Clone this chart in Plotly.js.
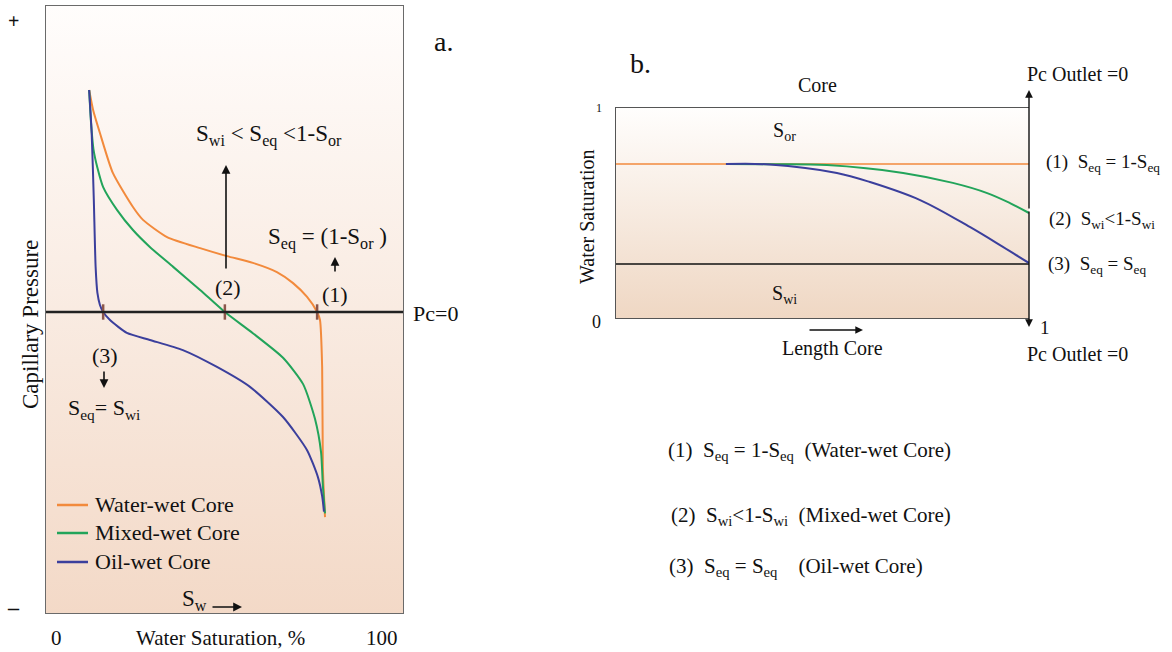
<!DOCTYPE html>
<html><head><meta charset="utf-8">
<script src="https://cdn.plot.ly/plotly-3.0.1.min.js"></script>
<style>html,body{margin:0;padding:0;background:#fff}#c{width:1172px;height:652px}</style>
</head><body><div id="c"></div>
<script>
// ---- Panel a: capillary pressure vs water saturation (%) ----
const waterWetSw = [12.3,13.4,15.3,18.9,24.5,27.3,34.0,43.2,50.7,57.9,64.6,69.1,73.0,75.8,76.6,77.2,77.4,78.0];
const waterWetPc = [0.723,0.658,0.583,0.453,0.342,0.300,0.244,0.208,0.182,0.160,0.130,0.094,0.049,0,-0.026,-0.179,-0.505,-0.668];
const mixedWetSw = [12.3,12.8,13.5,14.6,16.2,20.1,24.5,29.2,35.7,43.2,50.1,57.9,66.3,71.9,75.2,76.9,77.4,78.0];
const mixedWetPc = [0.723,0.620,0.530,0.470,0.407,0.332,0.267,0.212,0.147,0.072,0,-0.069,-0.149,-0.235,-0.348,-0.457,-0.566,-0.656];
const oilWetSw = [12.3,13.0,13.6,14.1,14.6,15.3,16.2,18.1,22.8,29.2,38.4,47.9,57.1,66.3,73.0,76.0,77.2,77.7];
const oilWetPc = [0.723,0.583,0.365,0.147,0.062,0.023,0,-0.026,-0.068,-0.091,-0.124,-0.179,-0.244,-0.342,-0.450,-0.537,-0.600,-0.650];
const crossingSw = [16.2,50.1,75.8];
const seriesNames = ["Water-wet Core","Mixed-wet Core","Oil-wet Core"];

// ---- Panel b: water saturation along core length ----
const coreLen = [0,1];
const sOrLevel = [0.731,0.731];
const sWiLevel = [0.259,0.259];
const mixedLen = [0.268,0.374,0.512,0.696,0.816,0.899,0.954,1.0];
const mixedSat = [0.731,0.730,0.726,0.689,0.642,0.594,0.547,0.5];
const oilLen = [0.268,0.374,0.536,0.616,0.737,0.857,0.937,1.0];
const oilSat = [0.731,0.729,0.689,0.646,0.561,0.434,0.340,0.264];

const W=1172,H=652;
const px=x=>x/W, py=y=>1-y/H;
const A_Y0=-0.9837, A_Y1=1;
const serif="'Liberation Serif', 'Times New Roman', serif";
const cOr="#f28a3c", cGr="#22a45a", cBl="#3b3f9c";
const seriesColors=[cOr,cGr,cBl];

const traces=[
 {x:[0,100,100,0,0],y:[A_Y0,A_Y0,A_Y1,A_Y1,A_Y0],xaxis:'x',yaxis:'y',fill:'toself',mode:'none',showlegend:false,hoverinfo:'skip',
  fillgradient:{type:'vertical',colorscale:[[0,'#f3d9c7'],[1,'#fffdfc']]}},
 {x:[0,1,1,0,0],y:[0,0,1,1,0],xaxis:'x2',yaxis:'y2',fill:'toself',mode:'none',showlegend:false,hoverinfo:'skip',
  fillgradient:{type:'vertical',colorscale:[[0,'#efd7c3'],[1,'#fffefd']]}},
 {x:waterWetSw,y:waterWetPc,name:seriesNames[0],mode:'lines',line:{color:cOr,width:2,shape:'spline',smoothing:0.6},xaxis:'x',yaxis:'y',showlegend:false},
 {x:mixedWetSw,y:mixedWetPc,name:seriesNames[1],mode:'lines',line:{color:cGr,width:2,shape:'spline',smoothing:0.6},xaxis:'x',yaxis:'y',showlegend:false},
 {x:oilWetSw,y:oilWetPc,name:seriesNames[2],mode:'lines',line:{color:cBl,width:2,shape:'spline',smoothing:0.6},xaxis:'x',yaxis:'y',showlegend:false},
 {x:crossingSw,y:crossingSw.map(()=>0),mode:'markers',marker:{symbol:'line-ns-open',size:11,line:{width:2.5,color:'#222'}},showlegend:false,xaxis:'x',yaxis:'y',hoverinfo:'skip'},
 {x:coreLen,y:sOrLevel,mode:'lines',line:{color:cOr,width:1.5},showlegend:false,xaxis:'x2',yaxis:'y2'},
 {x:coreLen,y:sWiLevel,mode:'lines',line:{color:'#111',width:1.5},showlegend:false,xaxis:'x2',yaxis:'y2'},
 {x:mixedLen,y:mixedSat,mode:'lines',line:{color:cGr,width:2,shape:'spline'},showlegend:false,xaxis:'x2',yaxis:'y2'},
 {x:oilLen,y:oilSat,mode:'lines',line:{color:cBl,width:2,shape:'spline'},showlegend:false,xaxis:'x2',yaxis:'y2'}
];

function T(text,x,y,size,opts){return Object.assign({text:text,x:px(x),y:py(y),xref:'paper',yref:'paper',showarrow:false,font:{family:serif,size:size,color:'#111'},xanchor:'center',yanchor:'middle'},opts||{});}
function Arr(hx,hy,tx,ty,w){return {text:'',x:px(hx),y:py(hy),xref:'paper',yref:'paper',showarrow:true,ax:tx-hx,ay:ty-hy,arrowhead:2,arrowsize:1.1,arrowwidth:w||1.6,arrowcolor:'#111'};}
const sp='\u00A0';
const annotations=[
 T('<b>+</b>',13,21,20),
 T('<b>–</b>',13,607,22),
 T('Capillary Pressure',30,325,23,{textangle:-90}),
 T('0',56,638,21),
 T('Water Saturation, %',220,638,21),
 T('100',382,638,21),
 T('a.',443,42,28),
 T('Pc=0',411,313,22,{xanchor:'left'}),
 T('S<sub>wi</sub> < S<sub>eq</sub> <1-S<sub>or</sub>',269,135,23),
 T('(2)',228,287,22),
 T('S<sub>eq</sub> = (1-S<sub>or</sub> )',266,238,23,{xanchor:'left'}),
 T('(1)',335,295,22),
 T('(3)',105,355,22),
 T('S<sub>eq</sub>= S<sub>wi</sub>',104,409,22),
 T('S<sub>w</sub>',180,600,23,{xanchor:'left'}),
 Arr(226,165,226,270),
 Arr(335,257,335,273),
 Arr(104,388,104,370),
 Arr(242,607,211,607),
 // panel b
 T('b.',640,63,28),
 T('Core',817,85,20),
 T('S<sub>or</sub>',784,131,20),
 T('S<sub>wi</sub>',784,295,20),
 T('Water Saturation',587,217,20,{textangle:-90}),
 T('1',599,108,12),
 T('0',596,322,18),
 T('Length Core',832,348,20),
 Arr(863,330,808,330,1.4),
 T('Pc Outlet =0',1077,74,20),
 T('Pc Outlet =0',1077,354,20),
 T('1',1045,327,19),
 Arr(1029,90,1029,210,1.4),
 Arr(1029,327,1029,210,1.4),
 T('(1)'+sp+sp+'S<sub>eq</sub> = 1-S<sub>eq</sub>',1044,163,19,{xanchor:'left'}),
 T('(2)'+sp+sp+'S<sub>wi</sub><1-S<sub>wi</sub>',1047,220,19,{xanchor:'left'}),
 T('(3)'+sp+sp+'S<sub>eq</sub> = S<sub>eq</sub>',1046,265,19,{xanchor:'left'}),
 T('(1)'+sp+sp+'S<sub>eq</sub> = 1-S<sub>eq</sub>'+sp+sp+'(Water-wet Core)',666,451,21,{xanchor:'left'}),
 T('(2)'+sp+sp+'S<sub>wi</sub><1-S<sub>wi</sub>'+sp+sp+'(Mixed-wet Core)',669,516,21,{xanchor:'left'}),
 T('(3)'+sp+sp+'S<sub>eq</sub> = S<sub>eq</sub>'+sp+sp+sp+sp+'(Oil-wet Core)',667,567,21,{xanchor:'left'})
];

const shapes=[
 {type:'line',xref:'x',yref:'y',x0:0,x1:100,y0:0,y1:0,line:{color:'#222',width:2.5}},
 {type:'rect',xref:'x',yref:'y',x0:0,x1:100,y0:A_Y0,y1:A_Y1,line:{color:'#6a6a6a',width:2}},
 {type:'line',xref:'x2',yref:'y2',x0:0,x1:1,y0:1,y1:1,line:{color:'#555',width:2}},
 {type:'line',xref:'x2',yref:'y2',x0:0,x1:1,y0:0,y1:0,line:{color:'#555',width:2}},
 {type:'line',xref:'x2',yref:'y2',x0:0,x1:0,y0:0,y1:1,line:{color:'#555',width:2}}
];

// manual legend for panel a
const legendRows=[505,533,562];
seriesNames.forEach((n,i)=>{
 shapes.push({type:'line',xref:'paper',yref:'paper',x0:px(57),x1:px(88),y0:py(legendRows[i]),y1:py(legendRows[i]),line:{color:seriesColors[i],width:2.5}});
 annotations.push(T(n,93,legendRows[i]-1,22,{xanchor:'left'}));
});

const ax={visible:false,fixedrange:true};
const layout={
 width:W,height:H,margin:{l:0,r:0,t:0,b:0},paper_bgcolor:'#fff',plot_bgcolor:'rgba(0,0,0,0)',
 xaxis:Object.assign({domain:[45/W,404/W],range:[0,100]},ax),
 yaxis:Object.assign({domain:[1-614/H,1-5/H],range:[A_Y0,A_Y1]},ax),
 xaxis2:Object.assign({domain:[615/W,1029/W],range:[0,1],anchor:'y2'},ax),
 yaxis2:Object.assign({domain:[1-319/H,1-107/H],range:[0,1],anchor:'x2'},ax),
 showlegend:false,
 annotations:annotations,shapes:shapes
};
Plotly.newPlot('c',traces,layout,{staticPlot:true,displayModeBar:false});
</script></body></html>
